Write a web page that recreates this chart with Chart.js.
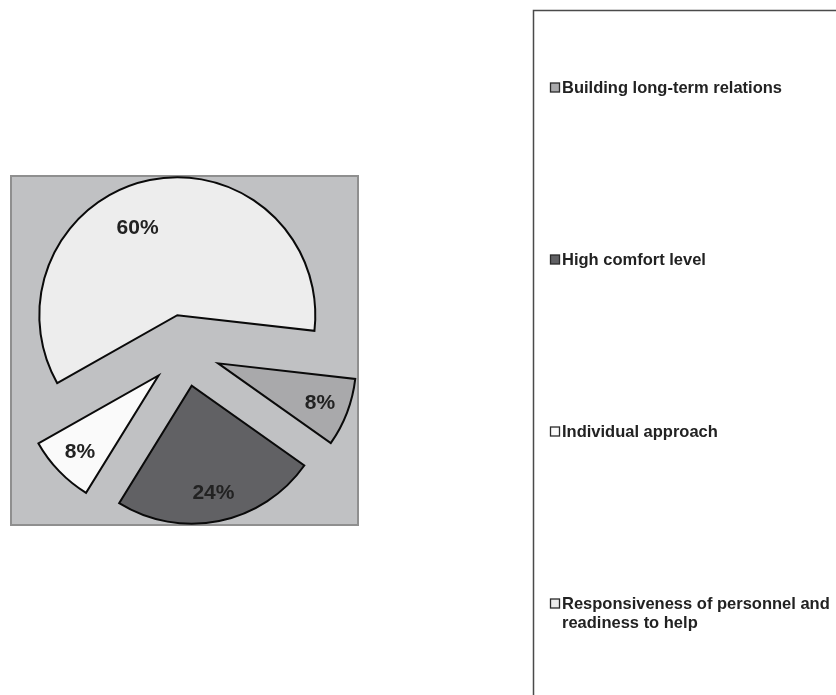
<!DOCTYPE html>
<html>
<head>
<meta charset="utf-8">
<script src="https://cdn.jsdelivr.net/npm/chart.js@4/dist/chart.umd.min.js"></script>
<style>
  html, body { margin: 0; padding: 0; background: #ffffff; }
  #wrap { position: relative; width: 836px; height: 695px; }
</style>
</head>
<body>
<div id="wrap"><canvas id="c" width="836" height="695"></canvas></div>
<script>
// ---- data ----
const categories = [
  'Building long-term relations',
  'High comfort level',
  'Individual approach',
  'Responsiveness of personnel and readiness to help'
];
const shares = [8, 24, 8, 60];

// ---- style ----
const palette = ['#a9a9ab', '#616164', '#fafafa', '#ededed'];
const FONT = '"Liberation Sans", Arial, Helvetica, sans-serif';

const explodePlugin = {
  id: 'explode',
  beforeDraw(chart) {
    const a = chart.chartArea, ctx = chart.ctx;
    ctx.save();
    ctx.fillStyle = '#c0c1c3';
    ctx.fillRect(a.left, a.top, a.right - a.left, a.bottom - a.top);
    ctx.strokeStyle = '#8f8f8f';
    ctx.lineWidth = 2;
    ctx.strokeRect(a.left + 1, a.top + 1, a.right - a.left - 2, a.bottom - a.top - 2);
    ctx.restore();
  },
  beforeDatasetsDraw(chart, args, opts) {
    const a = chart.chartArea;
    const cx = (a.left + a.right) / 2, cy = (a.top + a.bottom) / 2;
    chart.getDatasetMeta(0).data.forEach(arc => {
      const mid = (arc.startAngle + arc.endAngle) / 2;
      arc.x = cx + Math.cos(mid) * opts.distance;
      arc.y = cy + Math.sin(mid) * opts.distance;
    });
  },
  afterDatasetsDraw(chart, args, opts) {
    const ctx = chart.ctx;
    const meta = chart.getDatasetMeta(0);
    const vals = chart.data.datasets[0].data;
    ctx.save();
    ctx.font = 'bold 21px ' + FONT;
    ctx.fillStyle = '#222';
    ctx.textAlign = 'center';
    ctx.textBaseline = 'middle';
    meta.data.forEach((arc, i) => {
      const adj = opts.labelAdjust[i] || {};
      const mid = (arc.startAngle + arc.endAngle) / 2 + (adj.angle || 0) * Math.PI / 180;
      const d = adj.dist != null ? adj.dist : arc.outerRadius * opts.labelFactor;
      ctx.fillText(vals[i] + '%', arc.x + Math.cos(mid) * d, arc.y + Math.sin(mid) * d + 1);
    });
    ctx.restore();
  },
  afterDraw(chart) {
    const ctx = chart.ctx;
    ctx.save();
    // legend box (runs off the right and bottom edges)
    ctx.strokeStyle = '#4a4a4a';
    ctx.lineWidth = 1.5;
    ctx.strokeRect(533.5, 10.5, 400, 800);
    ctx.font = 'bold 16.5px ' + FONT;
    ctx.textBaseline = 'middle';
    ctx.textAlign = 'left';
    const colors = chart.data.datasets[0].backgroundColor;
    chart.data.labels.forEach((lab, i) => {
      const cy = 87.5 + i * 172;
      ctx.fillStyle = colors[i];
      ctx.fillRect(550.5, cy - 4.5, 9, 9);
      ctx.strokeStyle = '#2a2a2a';
      ctx.lineWidth = 1.3;
      ctx.strokeRect(550.5, cy - 4.5, 9, 9);
      // wrap text
      const words = lab.split(' ');
      const lines = [];
      let cur = '';
      words.forEach(w => {
        const t = cur ? cur + ' ' + w : w;
        if (ctx.measureText(t).width > 272 && cur) { lines.push(cur); cur = w; }
        else cur = t;
      });
      lines.push(cur);
      ctx.fillStyle = '#222';
      lines.forEach((ln, k) => ctx.fillText(ln, 562, cy + 1 + k * 19));
    });
    ctx.restore();
  }
};

new Chart(document.getElementById('c'), {
  type: 'pie',
  data: {
    labels: categories,
    datasets: [{
      data: shares,
      backgroundColor: palette,
      borderColor: '#0a0a0a',
      borderWidth: 2,
      borderJoinStyle: 'miter',
      offset: 0,
      hoverOffset: 0
    }]
  },
  options: {
    responsive: false,
    animation: false,
    events: [],
    rotation: 96.5,
    radius: 138,
    layout: { padding: { left: 10, top: 175, right: 477, bottom: 169 } },
    plugins: {
      legend: { display: false },
      tooltip: { enabled: false },
      title: { display: false },
      explode: {
        distance: 36,
        labelFactor: 0.79,
        labelAdjust: { 3: { angle: -12.7, dist: 97 } }
      }
    }
  },
  plugins: [explodePlugin]
});
</script>
</body>
</html>
